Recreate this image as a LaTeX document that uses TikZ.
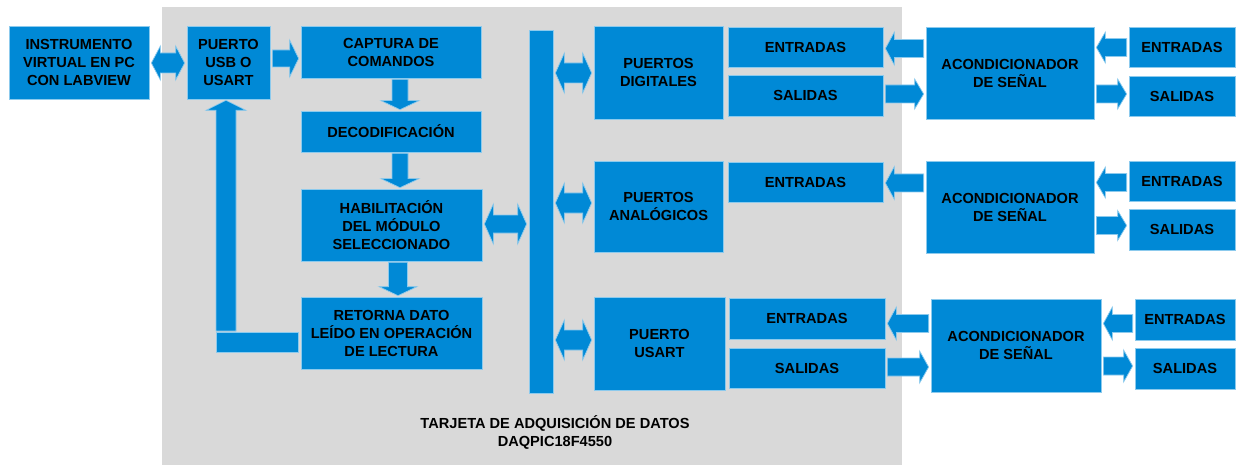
\documentclass[tikz,border=0pt]{standalone}
\usepackage{fontspec}
\setmainfont{Liberation Sans}
\usetikzlibrary{calc}
\definecolor{myblue}{RGB}{0,137,214}
\definecolor{bggray}{RGB}{217,217,217}
\tikzset{
  blk/.style={fill=myblue, draw=white!55!myblue, line width=0.7pt, inner sep=0pt,
    align=center, text=black, font=\fontsize{14.6}{18}\selectfont\bfseries},
  fat/.style={fill=myblue, draw=white!55!myblue, line width=0.7pt},
  lbl/.style={align=center, text=black, font=\fontsize{14.6}{18}\selectfont\bfseries, inner sep=0pt}
}
% box: {name}{x1}{y1}{x2}{y2}{text}
\newcommand\bx[6]{\node[blk, minimum width={(#4-#2)*1pt}, minimum height={(#5-#3)*1pt}]
  (#1) at ({(#2+#4)/2},{(#3+#5)/2}) {#6};}
% horizontal fat arrows between two nodes: {left node}{right node}{y centre}{shaft half}{head half}
\newcommand\fatR[5]{\path[fat] let \p1=(#1.east),\p2=(#2.west),\p3=(0,#3) in
  (\x1+2pt,\y3-#4pt) -- (\x2-11pt,\y3-#4pt) -- (\x2-11pt,\y3-#5pt) -- (\x2-2pt,\y3)
  -- (\x2-11pt,\y3+#5pt) -- (\x2-11pt,\y3+#4pt) -- (\x1+2pt,\y3+#4pt) -- cycle;}
\newcommand\fatL[5]{\path[fat] let \p1=(#1.east),\p2=(#2.west),\p3=(0,#3) in
  (\x1+2pt,\y3) -- (\x1+11pt,\y3-#5pt) -- (\x1+11pt,\y3-#4pt) -- (\x2-2pt,\y3-#4pt)
  -- (\x2-2pt,\y3+#4pt) -- (\x1+11pt,\y3+#4pt) -- (\x1+11pt,\y3+#5pt) -- cycle;}
\newcommand\fatLR[5]{\path[fat] let \p1=(#1.east),\p2=(#2.west),\p3=(0,#3) in
  (\x1+2pt,\y3) -- (\x1+11pt,\y3-#5pt) -- (\x1+11pt,\y3-#4pt) -- (\x2-11pt,\y3-#4pt)
  -- (\x2-11pt,\y3-#5pt) -- (\x2-2pt,\y3) -- (\x2-11pt,\y3+#5pt) -- (\x2-11pt,\y3+#4pt)
  -- (\x1+11pt,\y3+#4pt) -- (\x1+11pt,\y3+#5pt) -- cycle;}
% vertical down arrow: {top node}{bottom node}{x centre}{shaft half}{head half}
\newcommand\fatD[5]{\path[fat] let \p1=(#1.south),\p2=(#2.north),\p3=(#3,0) in
  (\x3-#4pt,\y1-1pt) -- (\x3-#4pt,\y2+10pt) -- (\x3-#5pt,\y2+10pt) -- (\x3,\y2+1pt)
  -- (\x3+#5pt,\y2+10pt) -- (\x3+#4pt,\y2+10pt) -- (\x3+#4pt,\y1-1pt) -- cycle;}
\begin{document}
\begin{tikzpicture}[x=1pt,y=-1pt]
\useasboundingbox (0,0) rectangle (1236,465);
\fill[bggray] (162,7) rectangle (902,465);

% left column
\bx{instr}{9}{26}{149}{99}{INSTRUMENTO\\VIRTUAL EN PC\\CON LABVIEW}
\bx{usb}{187}{26}{270}{99}{PUERTO\\USB O\\USART}
\bx{cap}{301}{26}{481}{78}{CAPTURA DE\\COMANDOS}
\bx{dec}{301}{111}{481}{152}{DECODIFICACIÓN}
\bx{hab}{301}{189}{482}{261}{HABILITACIÓN\\DEL MÓDULO\\SELECCIONADO}
\bx{ret}{301}{297}{482}{369}{RETORNA DATO\\LEÍDO EN OPERACIÓN\\DE LECTURA}
\bx{bus}{529}{30}{553}{393}{}

% ports
\bx{pd}{594}{26}{723}{119}{PUERTOS\\DIGITALES}
\bx{ent1}{728}{27}{883}{67}{ENTRADAS}
\bx{sal1}{728}{75}{883}{116}{SALIDAS}
\bx{pa}{594}{161}{723}{252}{PUERTOS\\ANALÓGICOS}
\bx{ent2}{728}{162}{883}{202}{ENTRADAS}
\bx{pu}{594}{297}{725}{390}{PUERTO\\USART}
\bx{ent3}{729}{298}{885}{339}{ENTRADAS}
\bx{sal3}{729}{348}{885}{388}{SALIDAS}

% conditioners
\bx{ac1}{926}{27}{1094}{119}{ACONDICIONADOR\\DE SEÑAL}
\bx{ac2}{926}{161}{1094}{253}{ACONDICIONADOR\\DE SEÑAL}
\bx{ac3}{931}{299}{1101}{392}{ACONDICIONADOR\\DE SEÑAL}
\bx{re1}{1129}{27}{1235}{67}{ENTRADAS}
\bx{rs1}{1129}{76}{1235}{116}{SALIDAS}
\bx{re2}{1129}{161}{1235}{201}{ENTRADAS}
\bx{rs2}{1129}{209}{1235}{250}{SALIDAS}
\bx{re3}{1135}{299}{1235}{340}{ENTRADAS}
\bx{rs3}{1135}{348}{1235}{389}{SALIDAS}

\node[lbl] (title) at (555,432) {TARJETA DE ADQUISICIÓN DE DATOS\\DAQPIC18F4550};

% arrows, left part
\fatLR{instr}{usb}{63}{10}{17}
\fatR{usb}{cap}{58.5}{8.5}{18.5}
\fatD{cap}{dec}{400}{8}{19}
\fatD{dec}{hab}{400}{8}{19}
\fatD{hab}{ret}{398}{9.5}{19}
\fatLR{hab}{bus}{224}{9}{20}
% return path
\path[fat] let \p1=(ret.west),\p2=(0,342),\p3=(216,0) in
  (\x3,\y2-10pt) rectangle (\x1-2pt,\y2+10pt);
\path[fat] let \p1=(usb.south),\p2=(0,331),\p3=(226,0) in
  (\x3-10pt,\y2) -- (\x3-10pt,\y1-11pt) -- (\x3-20pt,\y1-11pt) -- (\x3,\y1-1pt)
  -- (\x3+20pt,\y1-11pt) -- (\x3+10pt,\y1-11pt) -- (\x3+10pt,\y2) -- cycle;

% bus to ports
\fatLR{bus}{pd}{73}{10}{20}
\fatLR{bus}{pa}{203}{10}{20}
\fatLR{bus}{pu}{340}{10}{20}

% ports to conditioners
\fatL{ent1}{ac1}{48.5}{9}{16.5}
\fatR{sal1}{ac1}{94}{9}{15}
\fatL{ent2}{ac2}{183}{9}{16.5}
\fatL{ent3}{ac3}{323.5}{9}{16.5}
\fatR{sal3}{ac3}{367}{9}{16}

% conditioners to outer signals
\fatL{ac1}{re1}{47.5}{9}{15.5}
\fatR{ac1}{rs1}{94}{9}{15}
\fatL{ac2}{re2}{182.5}{9}{15.5}
\fatR{ac2}{rs2}{225.5}{9}{15}
\fatL{ac3}{re3}{323.5}{9}{16.5}
\fatR{ac3}{rs3}{366}{9}{16}
\end{tikzpicture}
\end{document}
